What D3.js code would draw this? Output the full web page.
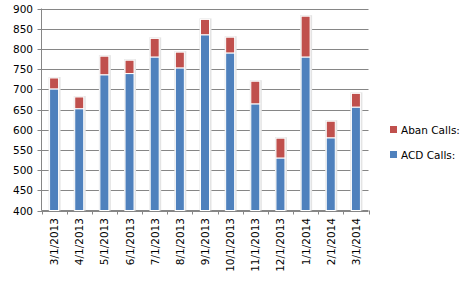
<!DOCTYPE html>
<html>
<head>
<meta charset="utf-8">
<script src="https://cdn.jsdelivr.net/npm/d3@7.9.0/dist/d3.min.js"></script>
<style>
  body { margin: 0; background: #fff; }
  svg { display: block; font-family: 'DejaVu Sans', Verdana, sans-serif; }
</style>
</head>
<body>
<svg width="468" height="282"></svg>
<script>
const months = ['3/1/2013', '4/1/2013', '5/1/2013', '6/1/2013', '7/1/2013', '8/1/2013', '9/1/2013',
  '10/1/2013', '11/1/2013', '12/1/2013', '1/1/2014', '2/1/2014', '3/1/2014'];
const acdCalls = [701, 652, 736, 739, 780, 753, 835, 790, 664, 530, 780, 580, 656];
const abanCalls = [27, 29, 46, 33, 46, 39, 38, 39, 56, 49, 101, 41, 34];
const yTicks = [400, 450, 500, 550, 600, 650, 700, 750, 800, 850, 900];

const colors = { acd: '#4f81bd', aban: '#c0504d', grid: '#868686' };

const svg = d3.select('svg');
const plotLeft = 41.5, plotRight = 368.5, plotTop = 8.5, plotBottom = 210.5;

const x = d3.scaleBand().domain(months).range([plotLeft, plotRight]).paddingInner(0).paddingOuter(0);
const y = d3.scaleLinear().domain([400, 900]).range([plotBottom, plotTop]);

// gridlines
svg.append('g')
  .selectAll('line')
  .data(yTicks)
  .join('line')
  .attr('x1', plotLeft - 4).attr('x2', plotRight)
  .attr('y1', (d) => Math.round(y(d)) + 0.5).attr('y2', (d) => Math.round(y(d)) + 0.5)
  .attr('stroke', colors.grid).attr('stroke-width', 1);

// y labels
svg.append('g')
  .selectAll('text')
  .data(yTicks)
  .join('text')
  .attr('x', 33)
  .attr('y', (d) => y(d) + 4)
  .attr('text-anchor', 'end')
  .attr('font-size', '10.5px')
  .attr('fill', '#000')
  .text((d) => d);

// axes
svg.append('line')
  .attr('x1', plotLeft).attr('x2', plotLeft).attr('y1', plotTop).attr('y2', plotBottom)
  .attr('stroke', colors.grid);

svg.append('line')
  .attr('x1', plotLeft).attr('x2', plotRight).attr('y1', plotBottom).attr('y2', plotBottom)
  .attr('stroke', colors.grid);
svg.append('g')
  .selectAll('line')
  .data(months.concat(['end']))
  .join('line')
  .attr('x1', (d, i) => Math.round(plotLeft + i * x.bandwidth()) + 0.5)
  .attr('x2', (d, i) => Math.round(plotLeft + i * x.bandwidth()) + 0.5)
  .attr('y1', plotBottom).attr('y2', plotBottom + 4)
  .attr('stroke', colors.grid);

// bars
const barW = 9;
const stacked = months.map((m, i) => ({ m, acd: acdCalls[i], aban: abanCalls[i] }));
const bars = svg.append('g');

// shadow
bars.selectAll('rect.shadow')
  .data(stacked)
  .join('rect')
  .attr('class', 'shadow')
  .attr('x', (d) => x(d.m) + x.bandwidth() / 2 - barW / 2 - 1)
  .attr('y', (d) => y(d.acd + d.aban) - 1)
  .attr('width', barW + 3)
  .attr('height', (d) => plotBottom - y(d.acd + d.aban) + 1)
  .attr('fill', '#e4e4e4');

bars.selectAll('rect.acd')
  .data(stacked)
  .join('rect')
  .attr('class', 'acd')
  .attr('x', (d) => x(d.m) + x.bandwidth() / 2 - barW / 2)
  .attr('y', (d) => y(d.acd))
  .attr('width', barW)
  .attr('height', (d) => plotBottom - y(d.acd))
  .attr('fill', colors.acd)
  .attr('stroke', '#fff').attr('stroke-width', 1);

bars.selectAll('rect.aban')
  .data(stacked)
  .join('rect')
  .attr('class', 'aban')
  .attr('x', (d) => x(d.m) + x.bandwidth() / 2 - barW / 2)
  .attr('y', (d) => y(d.acd + d.aban))
  .attr('width', barW)
  .attr('height', (d) => y(d.acd) - y(d.acd + d.aban))
  .attr('fill', colors.aban)
  .attr('stroke', '#fff').attr('stroke-width', 1);

// x labels
svg.append('g')
  .selectAll('text')
  .data(months)
  .join('text')
  .attr('transform', (d) => `translate(${x(d) + x.bandwidth() / 2 + 4},218) rotate(-90)`)
  .attr('text-anchor', 'end')
  .attr('font-size', '10.5px')
  .attr('fill', '#000')
  .text((d) => d);

// legend
const legendItems = [
  { label: 'Aban Calls:', color: colors.aban },
  { label: 'ACD Calls:', color: colors.acd },
];
const legend = svg.append('g');
legendItems.forEach((d, i) => {
  const ly = 126 + i * 25;
  legend.append('rect')
    .attr('x', 390).attr('y', ly).attr('width', 7).attr('height', 7)
    .attr('fill', d.color);
  legend.append('text')
    .attr('x', 401).attr('y', ly + 8)
    .attr('font-size', '10.5px')
    .attr('fill', '#000')
    .text(d.label);
});
</script>
</body>
</html>
